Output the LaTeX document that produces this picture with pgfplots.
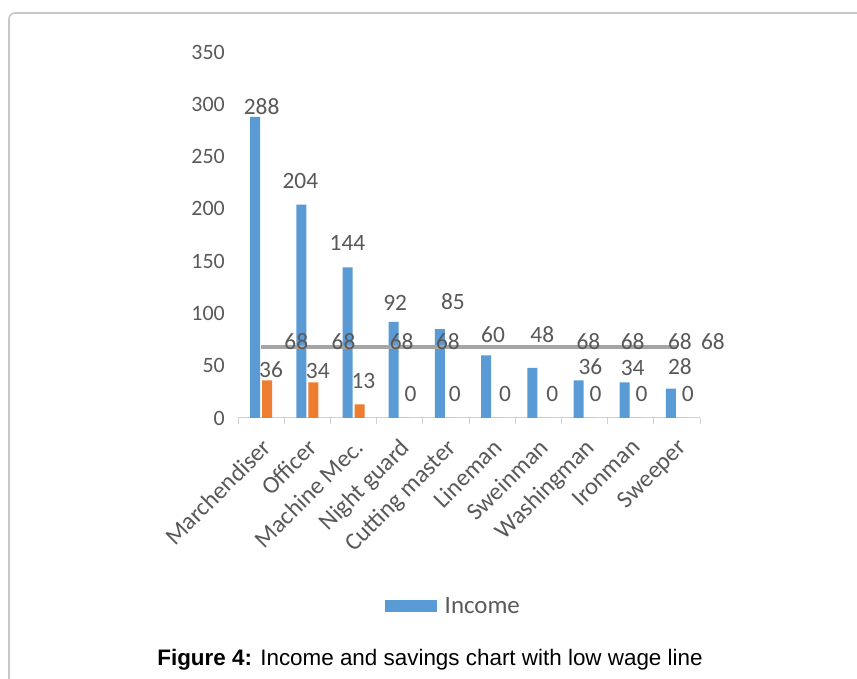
\documentclass[border=0pt]{standalone}
\usepackage{pgfplots}
\pgfplotsset{compat=1.18}
\usepackage{pgfplotstable}
\usepackage{fontspec}
\setmainfont{Carlito}
\newfontfamily\arialfont{Liberation Sans}
\definecolor{barblue}{HTML}{5B9BD5}
\definecolor{barorange}{HTML}{ED7D31}
\definecolor{linegray}{HTML}{A5A5A5}
\definecolor{txt}{HTML}{595959}
\newcommand\lbl{\fontsize{23.5}{27}\selectfont}
\newcommand\xlbl{\fontsize{24.5}{28}\selectfont}
\newcommand\tck{\fontsize{22}{26}\selectfont}

% x, income, savings, low wage line, then label offsets (layout only)
\pgfplotstableread{
x income savings wage bdx bdy odx ody
0 288 36 68 0.5 0 10 0
1 204 34 68 -7 14 10.5 2
2 144 13 68 -6 15 10 14
3 92 0 68 -4.5 9 11 14
4 85 0 68 7 17 9 14
5 60 0 68 1 10 13 14
6 48 0 68 4 23 14 14
7 36 0 68 6 3 11 14
8 34 0 68 2 5 11 14
9 28 0 68 3 12 11 14
}\data

% points of the low wage line whose value label is visible
\pgfplotstableread{
x wage gdx
1 68 -11
2 68 -10
3 68 2
4 68 2
7 68 4
8 68 2
9 68 3
}\wagelabels

\begin{document}
\begin{tikzpicture}
\useasboundingbox (0,0) rectangle (857bp,679bp);
\fill[white] (0,0) rectangle (857bp,679bp);
\draw[black!22, line width=1.6bp, rounded corners=6bp] (9bp,-5bp) |- (870bp,666bp);
\begin{axis}[
  at={(238bp,261bp)}, anchor=south west,
  scale only axis, width=462bp, height=366bp,
  xmin=-0.5, xmax=9.5, ymin=0, ymax=350,
  axis x line*=bottom, axis y line*=left,
  y axis line style={draw=none},
  x axis line style={draw=black!18, line width=1bp},
  ytick={0,50,...,350}, ytick style={draw=none},
  xtick={0,...,9},
  xticklabels={Marchendiser, Officer, Machine Mec., Night guard, Cutting master, Lineman, Sweinman, Washingman, Ironman, Sweeper},
  major x tick style={draw=none},
  minor xtick={-0.5,0.5,...,9.5},
  minor x tick style={draw=black!18, line width=1bp},
  minor tick length=6bp,
  xtick align=outside,
  /pgf/number format/assume math mode=true,
  yticklabel style={font=\tck, text=txt, anchor=east, inner sep=0pt, xshift=-13bp},
  xticklabel style={font=\xlbl, text=txt, rotate=45, anchor=north east, inner sep=1bp, xshift=-10bp, yshift=-9bp},
  legend style={at={(0.466,-0.514)}, anchor=center, draw=none, fill=none, font=\fontsize{25}{28}\selectfont, text=txt},
  clip=false,
]
\addplot[ybar, bar width=10bp, bar shift=-6bp, fill=barblue, draw=none,
  visualization depends on={\thisrow{bdx} \as \bdx},
  visualization depends on={\thisrow{bdy} \as \bdy},
  nodes near coords, nodes near coords align=vertical,
  every node near coord/.append style={font=\lbl, text=txt, inner sep=2bp, xshift=\bdx pt, yshift=\bdy pt},
  legend image code/.code={\fill[barblue] (0bp,-6bp) rectangle (52bp,6bp); \path (0bp,0bp) -- (58bp,0bp);}]
  table[x=x,y=income]{\data};
\addlegendentry{Income}
\addplot[ybar, bar width=10bp, bar shift=6bp, fill=barorange, draw=none, forget plot,
  visualization depends on={\thisrow{odx} \as \odx},
  visualization depends on={\thisrow{ody} \as \ody},
  nodes near coords, nodes near coords align=vertical,
  every node near coord/.append style={font=\lbl, text=txt, inner sep=2bp, xshift=\odx pt, yshift=\ody pt}]
  table[x=x,y=savings]{\data};
\addplot[linegray, line width=3.5bp, no markers, sharp plot, forget plot]
  table[x=x,y=wage]{\data};
\addplot[draw=none, no markers, forget plot,
  visualization depends on={\thisrow{gdx} \as \gdx},
  nodes near coords, nodes near coords align=vertical,
  every node near coord/.append style={font=\lbl, text=txt, inner sep=0pt, yshift=-3bp, xshift=\gdx pt}]
  table[x=x,y=wage]{\wagelabels};
\node[font=\lbl, text=txt, anchor=south, inner sep=0pt, yshift=-3bp] at (axis cs:9.78,68) {68};
\end{axis}
\node[font=\arialfont\fontsize{22.5}{26}\selectfont, text=black] at (430bp,19bp) {\textbf{Figure 4:} Income and savings chart with low wage line};
\end{tikzpicture}
\end{document}
